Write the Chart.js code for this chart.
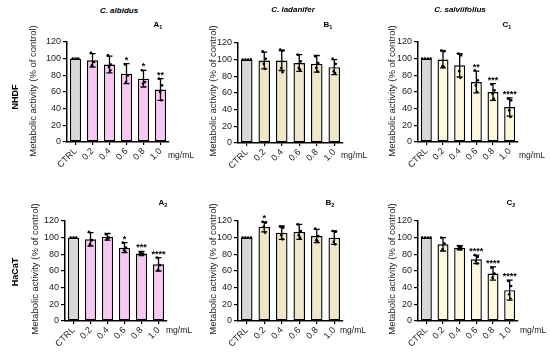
<!DOCTYPE html>
<html>
<head>
<meta charset="utf-8">
<script src="https://cdn.jsdelivr.net/npm/chart.js@4.4.0/dist/chart.umd.min.js"></script>
<style>
  body { margin: 0; background: #fff; }
  #fig { position: relative; width: 550px; height: 355px; overflow: hidden;
         font-family: "Liberation Sans", Arial, sans-serif; color: #000; }
  .panel { position: absolute; }
  .lbl { position: absolute; white-space: nowrap; transform: translate(-50%, -50%); }
  .title { font-size: 8px; font-weight: bold; font-style: italic; }
  .row { font-size: 9px; font-weight: bold; transform: translate(-50%, -50%) rotate(-90deg); }
  .ytitle { position: absolute; width: 150px; height: 12px; line-height: 12px; text-align: center;
            white-space: nowrap; font-size: 9.5px; color: #1a1a1a; transform: rotate(-90deg); }
  .tag { font-size: 8px; font-weight: bold; }
  .tag sub { font-size: 5.5px; }
  .unit { font-size: 8.5px; color: #1a1a1a; transform: translate(0, -50%); }
</style>
</head>
<body>
<div id="fig"></div>
<script>
// ============================================
// DATA
// ============================================
const doses = ['CTRL', '0.2', '0.4', '0.6', '0.8', '1.0'];

// C. albidus - NHDF (A1)
const albidusNHDF = [100, 98, 93, 82, 76, 63];
const albidusNHDFsd = [0, 8, 10, 12, 10, 13];
const albidusNHDFdots = [[100, 100, 100], [107, 96, 92], [104, 93, 90, 86], [93, 80, 72], [86, 72, 70], [76, 68, 60, 50]];
const albidusNHDFstars = ['', '', '', '*', '*', '**'];

// C. ladanifer - NHDF (B1)
const ladaniferNHDF = [100, 99, 99, 96, 95, 91];
const ladaniferNHDFsd = [0, 10, 12, 10, 10, 9];
const ladaniferNHDFdots = [[100, 100, 100, 100], [110, 101, 95, 89], [112, 111, 90, 85], [106, 98, 90, 88], [104, 96, 90, 86], [101, 95, 86, 84]];
const ladaniferNHDFstars = ['', '', '', '', '', ''];

// C. salviifolius - NHDF (C1)
const salviNHDF = [100, 99, 92, 72, 60, 42];
const salviNHDFsd = [0, 10, 14, 13, 10, 11];
const salviNHDFdots = [[100, 100, 100, 100], [110, 109, 91, 90], [106, 104, 85, 77], [86, 74, 68, 60], [69, 62, 58, 52], [52, 50, 38, 30]];
const salviNHDFstars = ['', '', '', '**', '***', '****'];

// C. albidus - HaCaT (A2)
const albidusHaCaT = [100, 98, 101, 88, 81, 68];
const albidusHaCaTsd = [0, 8, 4, 6, 2.5, 8];
const albidusHaCaTdots = [[100, 100, 100], [107, 97, 92], [104, 100, 98], [94, 88, 85, 84], [82, 81, 80], [76, 67, 61]];
const albidusHaCaTstars = ['', '', '', '*', '***', '****'];

// C. ladanifer - HaCaT (B2)
const ladaniferHaCaT = [100, 113, 106, 107, 102, 100];
const ladaniferHaCaTsd = [0, 6, 8, 9, 8, 8];
const ladaniferHaCaTdots = [[100, 100, 100, 100], [119, 118, 113, 106], [113, 112, 103, 98], [116, 108, 103, 100], [111, 102, 97, 96], [108, 107, 95, 92]];
const ladaniferHaCaTstars = ['', '*', '', '', '', ''];

// C. salviifolius - HaCaT (C2)
const salviHaCaT = [100, 92, 88, 74, 57, 37];
const salviHaCaTsd = [0, 8, 2.5, 5, 8, 12];
const salviHaCaTdots = [[100, 100, 100, 100], [100, 93, 86], [90, 89, 88, 86], [79, 77, 72, 69], [64, 57, 52], [48, 42, 32, 27]];
const salviHaCaTstars = ['', '', '', '****', '****', '****'];

// ============================================
// STYLE
// ============================================
const FONT = '"Liberation Sans", Arial, sans-serif';
const ctrlColor = '#d8d8d8';
const pink = '#f7c8f3';
const beige = '#efe7c8';
const paleYellow = '#fcf9dc';

// Each panel: where its axes sit in the figure (px)
const panels = [
  { means: albidusNHDF, sd: albidusNHDFsd, dots: albidusNHDFdots, stars: albidusNHDFstars, color: pink,       left: 67,  right: 169, top: 42, bottom: 142 },
  { means: ladaniferNHDF, sd: ladaniferNHDFsd, dots: ladaniferNHDFdots, stars: ladaniferNHDFstars, color: beige, left: 238, right: 343, top: 43, bottom: 143 },
  { means: salviNHDF, sd: salviNHDFsd, dots: salviNHDFdots, stars: salviNHDFstars, color: paleYellow,     left: 418, right: 518, top: 42, bottom: 142 },
  { means: albidusHaCaT, sd: albidusHaCaTsd, dots: albidusHaCaTdots, stars: albidusHaCaTstars, color: pink, left: 65,  right: 167, top: 221, bottom: 321 },
  { means: ladaniferHaCaT, sd: ladaniferHaCaTsd, dots: ladaniferHaCaTdots, stars: ladaniferHaCaTstars, color: beige, left: 238, right: 343, top: 221, bottom: 321 },
  { means: salviHaCaT, sd: salviHaCaTsd, dots: salviHaCaTdots, stars: salviHaCaTstars, color: paleYellow, left: 418, right: 518, top: 221, bottom: 321 }
];

// Text labels around the charts
const labels = [
  { cls: 'title', text: 'C. albidus', x: 119, y: 10 },
  { cls: 'title', text: 'C. ladanifer', x: 293, y: 9 },
  { cls: 'title', text: 'C. salviifolius', x: 460, y: 9 },
  { cls: 'tag', html: 'A<sub>1</sub>', x: 158, y: 25 },
  { cls: 'tag', html: 'B<sub>1</sub>', x: 328, y: 25 },
  { cls: 'tag', html: 'C<sub>1</sub>', x: 507, y: 25 },
  { cls: 'tag', html: 'A<sub>2</sub>', x: 163, y: 203 },
  { cls: 'tag', html: 'B<sub>2</sub>', x: 330, y: 203 },
  { cls: 'tag', html: 'C<sub>2</sub>', x: 511, y: 203 },
  { cls: 'row', text: 'NHDF', x: 15, y: 97 },
  { cls: 'row', text: 'HaCaT', x: 15, y: 272 }
];
const yTitlePos = [[33, 91], [213, 91], [392, 91], [35, 269], [213, 269], [392, 269]];
const unitPos = [[168, 155], [341, 155], [519, 155], [166, 330], [340, 330], [520, 330]];

// ============================================
// PLUGIN: error bars, replicate dots and stars
// ============================================
const errorBarPlugin = {
  id: 'errorBars',
  afterDatasetsDraw(chart) {
    const p = chart.options.plugins.errorBars;
    const xs = chart.scales.x;
    const ys = chart.scales.y;
    const ctx = chart.ctx;
    ctx.save();
    ctx.strokeStyle = '#000';
    ctx.fillStyle = '#000';
    ctx.lineWidth = 1.3;

    p.means.forEach((m, i) => {
      const x = xs.getPixelForValue(i);
      const hi = ys.getPixelForValue(m + p.sd[i]);
      const lo = ys.getPixelForValue(m - p.sd[i]);

      // whisker with caps
      if (p.sd[i] > 0) {
        ctx.beginPath();
        ctx.moveTo(x, hi); ctx.lineTo(x, lo);
        ctx.moveTo(x - 3, hi); ctx.lineTo(x + 3, hi);
        ctx.moveTo(x - 3, lo); ctx.lineTo(x + 3, lo);
        ctx.stroke();
      }

      // replicate points (spread out when they coincide)
      const pts = p.dots[i];
      const same = pts.every(v => v === pts[0]);
      pts.forEach((v, j) => {
        const dx = same ? (j - (pts.length - 1) / 2) * 2.8 : [-1.5, 1.5, -0.5, 0.8][j % 4];
        ctx.beginPath();
        ctx.arc(x + dx, ys.getPixelForValue(v), 1.3, 0, Math.PI * 2);
        ctx.fill();
      });

      // significance marks
      if (p.stars[i]) {
        ctx.font = 'bold 9px ' + FONT;
        ctx.textAlign = 'center';
        ctx.textBaseline = 'alphabetic';
        ctx.fillText(p.stars[i], x, hi - 1);
      }
    });
    ctx.restore();
  }
};

// ============================================
// BUILD
// ============================================
const fig = document.getElementById('fig');
const PAD_TOP = 10, Y_W = 40, X_H = 40, PAD_R = 6;

function axisStyle() {
  return {
    color: '#1a1a1a',
    font: { size: 9, family: FONT }
  };
}

panels.forEach((p, k) => {
  const w = (p.right - p.left) + Y_W + PAD_R;
  const h = (p.bottom - p.top) + PAD_TOP + X_H;
  const canvas = document.createElement('canvas');
  canvas.className = 'panel';
  canvas.width = w;
  canvas.height = h;
  canvas.style.left = (p.left - Y_W) + 'px';
  canvas.style.top = (p.top - PAD_TOP) + 'px';
  fig.appendChild(canvas);

  new Chart(canvas, {
    type: 'bar',
    data: {
      labels: doses,
      datasets: [{
        data: p.means,
        backgroundColor: doses.map((d, i) => i === 0 ? ctrlColor : p.color),
        borderColor: '#000',
        borderWidth: 1.4,
        borderSkipped: false,
        barPercentage: 0.66,
        categoryPercentage: 1
      }]
    },
    options: {
      responsive: false,
      animation: false,
      devicePixelRatio: 1,
      layout: { padding: { top: PAD_TOP, right: PAD_R, left: 0, bottom: 0 } },
      plugins: {
        legend: { display: false },
        tooltip: { enabled: false },
        errorBars: { means: p.means, sd: p.sd, dots: p.dots, stars: p.stars }
      },
      scales: {
        x: {
          grid: { offset: false, drawOnChartArea: false, drawTicks: true, tickLength: 3, color: '#000', lineWidth: 1.2 },
          border: { color: '#000', width: 1.5 },
          ticks: { ...axisStyle(), minRotation: 45, maxRotation: 45, padding: 1, autoSkip: false },
          afterFit(s) { s.height = X_H; }
        },
        y: {
          min: 0,
          max: 120,
          grid: { drawOnChartArea: false, drawTicks: true, tickLength: 4, color: '#000', lineWidth: 1.2 },
          border: { color: '#000', width: 1.5 },
          ticks: { ...axisStyle(), stepSize: 20, padding: 2 },
          afterFit(s) { s.width = Y_W; }
        }
      }
    },
    plugins: [errorBarPlugin]
  });

  // axis title (fixed-size box, rotated about its centre) and unit
  const yt = document.createElement('div');
  yt.className = 'ytitle';
  yt.textContent = 'Metabolic activity (% of control)';
  yt.style.left = (yTitlePos[k][0] - 75) + 'px';
  yt.style.top = (yTitlePos[k][1] - 6) + 'px';
  fig.appendChild(yt);

  const u = document.createElement('div');
  u.className = 'lbl unit';
  u.textContent = 'mg/mL';
  u.style.left = unitPos[k][0] + 'px';
  u.style.top = unitPos[k][1] + 'px';
  fig.appendChild(u);
});

labels.forEach(l => {
  const d = document.createElement('div');
  d.className = 'lbl ' + l.cls;
  if (l.html) d.innerHTML = l.html; else d.textContent = l.text;
  d.style.left = l.x + 'px';
  d.style.top = l.y + 'px';
  fig.appendChild(d);
});
</script>
</body>
</html>
